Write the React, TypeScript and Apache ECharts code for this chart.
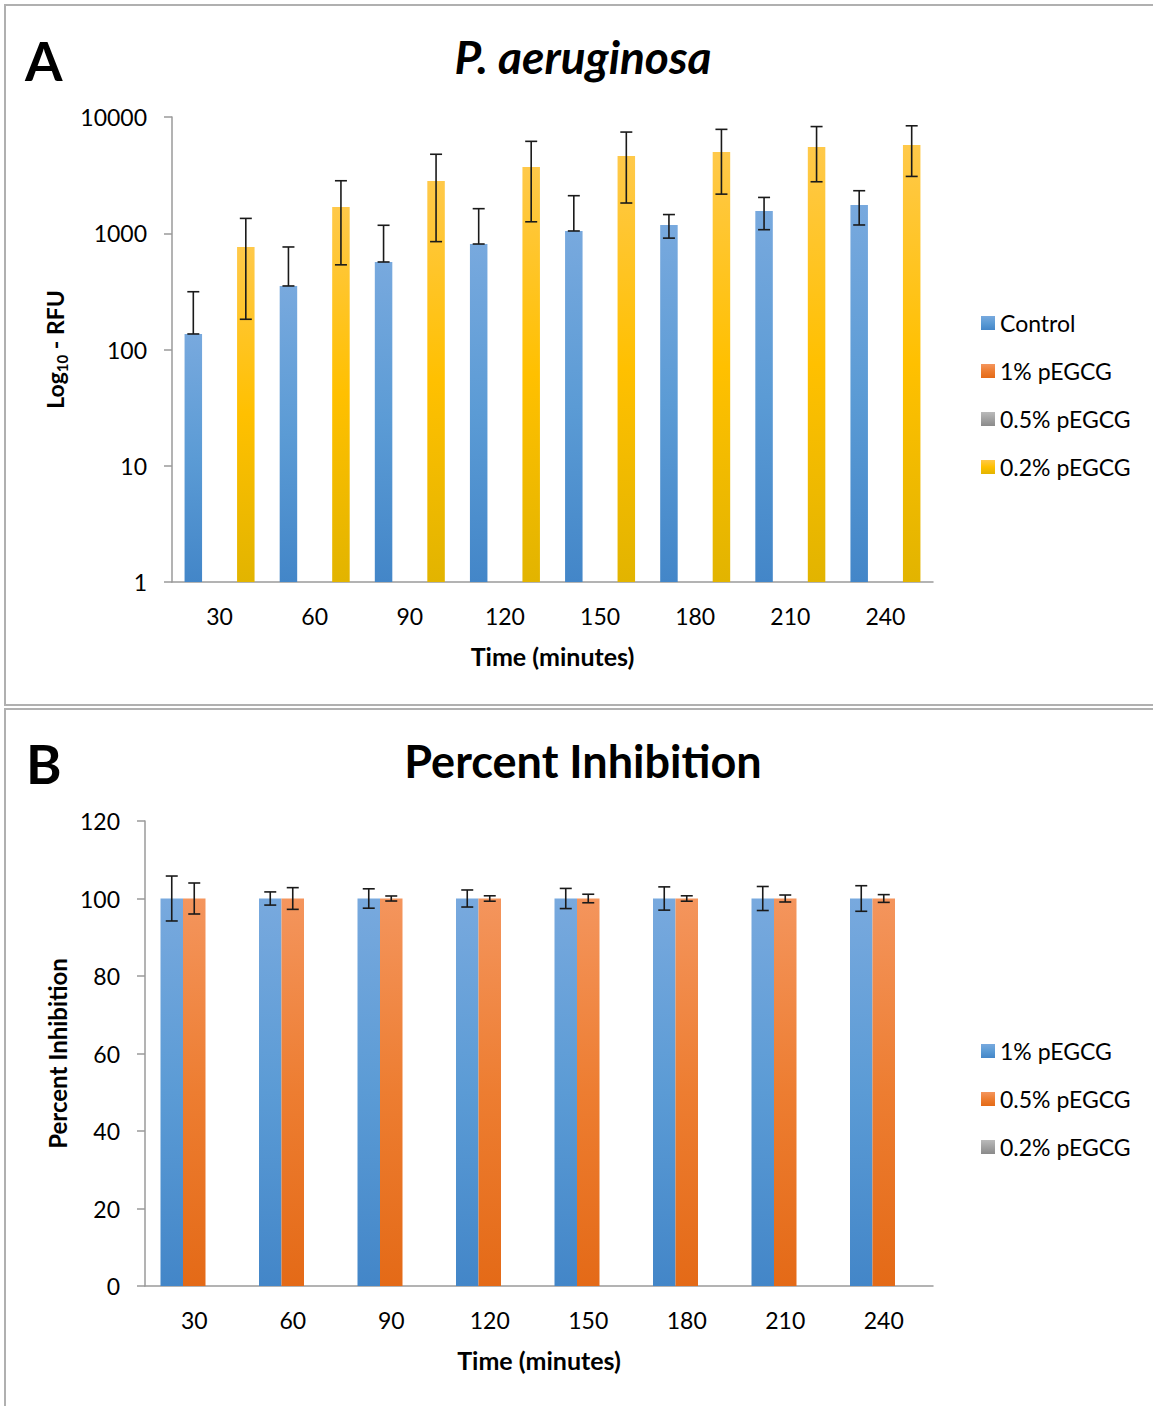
import React, { useEffect, useRef } from "react";
import * as echarts from "echarts";

const timeLabels = ["30", "60", "90", "120", "150", "180", "210", "240"];

// Panel A (log RFU)
const seriesNamesA = ["Control", "1% pEGCG", "0.5% pEGCG", "0.2% pEGCG"];
const controlA = [136, 352, 566, 808, 1046, 1178, 1553, 1750];
const controlAErr = [178, 410, 605, 819, 1058, 270, 480, 572];
const p1A: (number | string)[] = ["-", "-", "-", "-", "-", "-", "-", "-"];
const p05A: (number | string)[] = ["-", "-", "-", "-", "-", "-", "-", "-"];
const p02A = [762, 1682, 2814, 3715, 4620, 5000, 5523, 5742];
const p02AErr = [580, 1147, 1967, 2460, 2800, 2830, 2750, 2660];
const yTicksA = [1, 10, 100, 1000, 10000];

// Panel B (percent inhibition)
const seriesNamesB = ["1% pEGCG", "0.5% pEGCG", "0.2% pEGCG"];
const p1B = [100, 100, 100, 100, 100, 100, 100, 100];
const p1BErr = [5.8, 1.7, 2.5, 2.2, 2.6, 3.0, 3.1, 3.3];
const p05B = [100, 100, 100, 100, 100, 100, 100, 100];
const p05BErr = [4.0, 2.8, 0.65, 0.7, 1.1, 0.7, 0.9, 1.0];
const p02B: (number | string)[] = ["-", "-", "-", "-", "-", "-", "-", "-"];

const FONT = "Lato";

const grad = (stops: [number, string][]) =>
  new echarts.graphic.LinearGradient(
    0,
    0,
    0,
    1,
    stops.map(([o, c]) => ({ offset: o, color: c }))
  );

const BLUE = () => grad([[0, "#78a9de"], [0.5, "#5b9bd5"], [1, "#4386c8"]]);
const ORANGE = () => grad([[0, "#f4955d"], [0.5, "#ed7d31"], [1, "#e46a17"]]);
const GRAY = () => grad([[0, "#bababa"], [1, "#8a8a8a"]]);
const YELLOW = () => grad([[0, "#ffc94a"], [0.5, "#ffc000"], [1, "#e2b400"]]);

function errRender(barW: number, n: number) {
  return (params: any, api: any) => {
    const cat = api.value(0);
    const v = api.value(1);
    const e = api.value(2);
    const idx = api.value(3);
    const base = api.coord([cat, v]);
    const x = base[0] + (idx - (n - 1) / 2) * barW;
    const hiY = api.coord([cat, v + e])[1];
    const lo = v - e > 0 ? v - e : v;
    const loY = api.coord([cat, lo])[1];
    const cap = 6;
    const st = { stroke: "#1a1a1a", lineWidth: 1.6 };
    return {
      type: "group",
      children: [
        { type: "line", shape: { x1: x, y1: hiY, x2: x, y2: loY }, style: st },
        { type: "line", shape: { x1: x - cap, y1: hiY, x2: x + cap, y2: hiY }, style: st },
        { type: "line", shape: { x1: x - cap, y1: loY, x2: x + cap, y2: loY }, style: st },
      ],
    };
  };
}

const errData = (vals: number[], errs: number[], idx: number) =>
  vals.map((v, i) => [i, v, errs[i], idx]);

const axisLineStyle = { color: "#9a9a9a", width: 1.5 };

function optionA(): any {
  const barW = 17.5;
  const colors = [BLUE(), ORANGE(), GRAY(), YELLOW()];
  const datas = [controlA, p1A, p05A, p02A];
  return {
    animation: false,
    backgroundColor: "#ffffff",
    textStyle: { fontFamily: FONT },
    title: [
      {
        text: "P. aeruginosa",
        left: 578,
        top: 28,
        textAlign: "center",
        textStyle: { fontFamily: FONT, fontSize: 46, fontWeight: "bold", fontStyle: "italic", color: "#000" },
      },
      {
        text: "A",
        left: 20,
        top: 28,
        textStyle: { fontFamily: FONT, fontSize: 54, fontWeight: "bold", color: "#000" },
      },
    ],
    graphic: [
      {
        type: "rect",
        shape: { x: 5, y: 5, width: 1200, height: 700 },
        style: { fill: "none", stroke: "#b0b0b0", lineWidth: 2 },
        silent: true,
      },
    ],
    legend: {
      orient: "vertical",
      left: 976,
      top: 305,
      itemWidth: 14,
      itemHeight: 14,
      itemGap: 22,
      icon: "rect",
      data: seriesNamesA,
      textStyle: { fontFamily: FONT, fontSize: 23, color: "#000", lineHeight: 26 },
    },
    grid: { left: 172, top: 117, width: 761, height: 465 },
    xAxis: {
      type: "category",
      data: timeLabels,
      axisLine: { lineStyle: axisLineStyle },
      axisTick: { length: 8, lineStyle: axisLineStyle },
      axisLabel: { fontFamily: FONT, fontSize: 23, color: "#000", margin: 22 },
      name: "Time (minutes)",
      nameLocation: "middle",
      nameGap: 61,
      nameTextStyle: { fontFamily: FONT, fontSize: 25, fontWeight: "bold", color: "#000" },
    },
    yAxis: {
      type: "log",
      logBase: 10,
      min: yTicksA[0],
      max: yTicksA[yTicksA.length - 1],
      axisLine: { show: true, lineStyle: axisLineStyle },
      axisTick: { show: true, length: 8, lineStyle: axisLineStyle },
      minorTick: { show: false },
      splitLine: { show: false },
      axisLabel: { fontFamily: FONT, fontSize: 23, color: "#000", margin: 25, formatter: (v: number) => String(Math.round(v)) },
      name: "{a|Log}{s|10}{a| - RFU}",
      nameLocation: "middle",
      nameRotate: 90,
      nameGap: 102,
      nameTextStyle: {
        rich: {
          a: { fontFamily: FONT, fontSize: 23, fontWeight: "bold", color: "#000", lineHeight: 28, verticalAlign: "middle" },
          s: { fontFamily: FONT, fontSize: 15, fontWeight: "bold", color: "#000", lineHeight: 28, verticalAlign: "bottom" },
        },
      },
    },
    series: [
      ...seriesNamesA.map((name, i) => ({
        type: "bar",
        name,
        data: datas[i],
        barWidth: barW,
        barGap: "0%",
        itemStyle: { color: colors[i] },
      })),
      {
        type: "custom",
        name: "errA0",
        data: errData(controlA, controlAErr, 0),
        renderItem: errRender(barW, 4),
        encode: { x: 0, y: 1 },
        z: 5,
        silent: true,
      },
      {
        type: "custom",
        name: "errA3",
        data: errData(p02A, p02AErr, 3),
        renderItem: errRender(barW, 4),
        encode: { x: 0, y: 1 },
        z: 5,
        silent: true,
      },
    ],
  };
}

function optionB(): any {
  const barW = 22.5;
  const colors = [BLUE(), ORANGE(), GRAY()];
  const datas = [p1B, p05B, p02B];
  return {
    animation: false,
    backgroundColor: "#ffffff",
    textStyle: { fontFamily: FONT },
    title: [
      {
        text: "Percent Inhibition",
        left: 578,
        top: 26,
        textAlign: "center",
        textStyle: { fontFamily: FONT, fontSize: 45, fontWeight: "bold", color: "#000" },
      },
      {
        text: "B",
        left: 21,
        top: 24,
        textStyle: { fontFamily: FONT, fontSize: 54, fontWeight: "bold", color: "#000" },
      },
    ],
    graphic: [
      {
        type: "rect",
        shape: { x: 5, y: 2, width: 1200, height: 800 },
        style: { fill: "none", stroke: "#b0b0b0", lineWidth: 2 },
        silent: true,
      },
    ],
    legend: {
      orient: "vertical",
      left: 976,
      top: 326,
      itemWidth: 14,
      itemHeight: 14,
      itemGap: 22,
      icon: "rect",
      data: seriesNamesB,
      textStyle: { fontFamily: FONT, fontSize: 23, color: "#000", lineHeight: 26 },
    },
    grid: { left: 145, top: 114, width: 788, height: 465 },
    xAxis: {
      type: "category",
      data: timeLabels,
      axisLine: { lineStyle: axisLineStyle },
      axisTick: { length: 8, lineStyle: axisLineStyle },
      axisLabel: { fontFamily: FONT, fontSize: 23, color: "#000", margin: 22 },
      name: "Time (minutes)",
      nameLocation: "middle",
      nameGap: 61,
      nameTextStyle: { fontFamily: FONT, fontSize: 25, fontWeight: "bold", color: "#000" },
    },
    yAxis: {
      type: "value",
      min: 0,
      max: 120,
      interval: 20,
      axisLine: { show: true, lineStyle: axisLineStyle },
      axisTick: { show: true, length: 8, lineStyle: axisLineStyle },
      splitLine: { show: false },
      axisLabel: { fontFamily: FONT, fontSize: 23, color: "#000", margin: 25 },
      name: "Percent Inhibition",
      nameLocation: "middle",
      nameRotate: 90,
      nameGap: 76,
      nameTextStyle: { fontFamily: FONT, fontSize: 24, fontWeight: "bold", color: "#000" },
    },
    series: [
      ...seriesNamesB.map((name, i) => ({
        type: "bar",
        name,
        data: datas[i],
        barWidth: barW,
        barGap: "0%",
        itemStyle: { color: colors[i] },
      })),
      {
        type: "custom",
        name: "errB0",
        data: errData(p1B, p1BErr, 0),
        renderItem: errRender(barW, 3),
        encode: { x: 0, y: 1 },
        z: 5,
        silent: true,
      },
      {
        type: "custom",
        name: "errB1",
        data: errData(p05B, p05BErr, 1),
        renderItem: errRender(barW, 3),
        encode: { x: 0, y: 1 },
        z: 5,
        silent: true,
      },
    ],
  };
}

function Chart({ option, top, height }: { option: () => any; top: number; height: number }) {
  const ref = useRef<HTMLDivElement>(null);
  useEffect(() => {
    if (!ref.current) return;
    const chart = echarts.init(ref.current, undefined, { renderer: "svg" });
    chart.setOption(option());
    return () => chart.dispose();
  }, [option]);
  return (
    <div
      ref={ref}
      style={{ position: "absolute", left: 0, top, width: 1153, height }}
    />
  );
}

export default function App() {
  return (
    <div style={{ position: "absolute", left: 0, top: 0, width: 1153, height: 1406, background: "#fff", overflow: "hidden" }}>
      <Chart option={optionA} top={0} height={707} />
      <Chart option={optionB} top={707} height={699} />
    </div>
  );
}
